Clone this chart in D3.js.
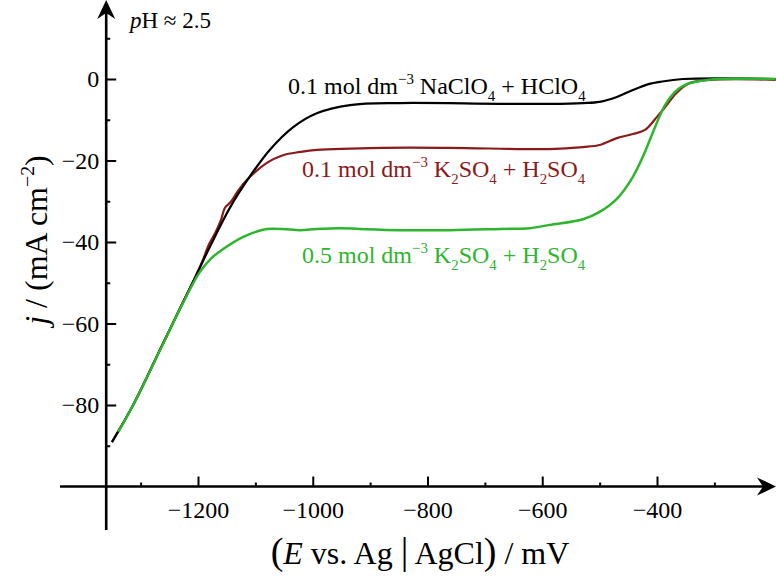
<!DOCTYPE html>
<html>
<head>
<meta charset="utf-8">
<script src="https://cdn.jsdelivr.net/npm/d3@7"></script>
<style>
  html, body { margin: 0; padding: 0; background: #fff; }
  svg { display: block; }
  text { font-family: "Liberation Serif", "DejaVu Serif", serif; }
</style>
</head>
<body>
<svg id="chart" width="776" height="584"></svg>
<script>
// ---------- data (E in mV vs Ag|AgCl, j in mA cm^-2) ----------
const blackE = [-1350,-1313,-1266,-1231,-1205,-1179,-1144,-1109,-1075,-1034,-993,-935,-848,-674,-587,-529,-500,-470,-442,-413,-395,-355,-193];
const blackJ = [-89.1,-80,-66.4,-56.2,-48.7,-41.1,-31.5,-23.8,-17.4,-11.8,-8.4,-6.4,-5.9,-6.1,-6.1,-5.9,-5.6,-4.4,-2.7,-1.2,-0.7,0,0];

const redE = [-1350,-1313,-1266,-1231,-1205,-1192,-1181,-1170,-1160,-1153,-1143,-1130,-1115,-1080,-1052,-1022,-993,-878,-761,-587,-529,-500,-470,-442,-421,-400,-383,-366,-343,-308,-193];
const redJ = [-89.1,-80,-66.4,-56.2,-48.7,-44.6,-40.6,-37.8,-34.6,-31.6,-30.2,-27.4,-24.8,-20.6,-18.7,-17.9,-17.4,-16.9,-16.9,-17.2,-16.7,-16.2,-14.5,-13.5,-12.5,-9.3,-6.4,-3.4,-1,-0.2,-0.2];

const greenE = [-1339,-1313,-1266,-1228,-1197,-1176,-1156,-1122,-1095,-1080,-1052,-1022,-993,-953,-918,-848,-761,-674,-622,-587,-529,-500,-470,-442,-421,-404,-386,-369,-352,-325,-291,-193];
const greenJ = [-86.6,-80,-66.5,-55.5,-47.4,-43.9,-41.7,-38.8,-37.3,-36.8,-36.8,-37.1,-36.8,-36.6,-36.8,-37.1,-37.1,-36.8,-36.6,-35.8,-34.4,-32.6,-29.4,-24,-17.9,-12,-6.4,-3.2,-1.5,-0.5,0,0];

const xMajorTicks = [-1200,-1000,-800,-600,-400];
const xMinorTicks = [-1300,-1100,-900,-700,-500,-300];
const yMajorTicks = [0,-20,-40,-60,-80];
const yMinorTicks = [10,-10,-30,-50,-70,-90];

const colors = { black: "#000000", red: "#8b1a1a", green: "#2db52d" };

// ---------- scales ----------
const svg = d3.select("#chart");
const x = d3.scaleLinear().domain([-1200, -400]).range([198, 657]);
const y = d3.scaleLinear().domain([0, -80]).range([79, 405]);

const yAxisAtE = -1360;   // where the vertical axis crosses
const xAxisAtJ = -100;    // where the horizontal axis crosses
const fmt = d => d3.format("d")(d).replace("-", "−");

// ---------- axes ----------
const gx = svg.append("g").attr("transform", `translate(0,${y(xAxisAtJ)})`);
gx.append("line").attr("x1", 60).attr("x2", 770).attr("y1", 0).attr("y2", 0)
  .attr("stroke", "#000").attr("stroke-width", 2.6);
gx.append("path").attr("d", "M776,0 L757,-9 L763,0 L757,9 Z").attr("fill", "#000");

const gxm = gx.append("g").call(d3.axisBottom(x).tickValues(xMajorTicks).tickSizeInner(-10).tickSizeOuter(0).tickPadding(14).tickFormat(fmt));
gxm.select(".domain").remove();
gxm.selectAll(".tick line").attr("stroke-width", 2);
gxm.selectAll(".tick text").attr("font-size", 24).attr("font-family", "Liberation Serif").attr("fill", "#000");

const gxn = gx.append("g").call(d3.axisBottom(x).tickValues(xMinorTicks).tickSizeInner(-4).tickSizeOuter(0).tickFormat(""));
gxn.select(".domain").remove();
gxn.selectAll(".tick line").attr("stroke-width", 2);

const gy = svg.append("g").attr("transform", `translate(${x(yAxisAtE)},0)`);
gy.append("line").attr("x1", 0).attr("x2", 0).attr("y1", 6).attr("y2", 530)
  .attr("stroke", "#000").attr("stroke-width", 2.6);
gy.append("path").attr("d", "M0,0 L-9,19 L0,13 L9,19 Z").attr("fill", "#000");

const gym = gy.append("g").call(d3.axisLeft(y).tickValues(yMajorTicks).tickSizeInner(-10).tickSizeOuter(0).tickPadding(7).tickFormat(fmt));
gym.select(".domain").remove();
gym.selectAll(".tick line").attr("stroke-width", 2);
gym.selectAll(".tick text").attr("font-size", 24).attr("font-family", "Liberation Serif").attr("fill", "#000");

const gyn = gy.append("g").call(d3.axisLeft(y).tickValues(yMinorTicks).tickSizeInner(-4).tickSizeOuter(0).tickFormat(""));
gyn.select(".domain").remove();
gyn.selectAll(".tick line").attr("stroke-width", 2);

// ---------- curves ----------
const line = d3.line().x(d => x(d[0])).y(d => y(d[1])).curve(d3.curveCatmullRom.alpha(0.5));
const zip = (a, b) => a.map((v, i) => [v, b[i]]);

svg.append("path").attr("d", line(zip(redE, redJ))).attr("fill", "none")
  .attr("stroke", colors.red).attr("stroke-width", 2.2).attr("stroke-linejoin", "round");
svg.append("path").attr("d", line(zip(blackE, blackJ))).attr("fill", "none")
  .attr("stroke", colors.black).attr("stroke-width", 2.2).attr("stroke-linejoin", "round");
svg.append("path").attr("d", line(zip(greenE, greenJ))).attr("fill", "none")
  .attr("stroke", colors.green).attr("stroke-width", 2.5).attr("stroke-linejoin", "round");

// ---------- rich text helper ----------
function richText(g, parts, size) {
  const t = g.append("text").attr("font-size", size);
  let shift = 0;
  parts.forEach(p => {
    let target = 0, fs = size;
    if (p.sub) { target = 0.28 * size; fs = 0.62 * size; }
    if (p.sup) { target = -0.42 * size; fs = 0.62 * size; }
    if (p.fs) fs = p.fs;
    const ts = t.append("tspan").text(p.t).attr("font-size", fs).attr("dy", target - shift);
    if (p.it) ts.attr("font-style", "italic");
    shift = target;
  });
  return t;
}

// legend labels
richText(svg.append("g").attr("transform", "translate(288,94)"), [
  {t: "0.1 mol dm"}, {t: "−3", sup: true}, {t: " NaClO"}, {t: "4", sub: true}, {t: " + HClO"}, {t: "4", sub: true}
], 24).attr("fill", colors.black);

richText(svg.append("g").attr("transform", "translate(302,177)"), [
  {t: "0.1 mol dm"}, {t: "−3", sup: true}, {t: " K"}, {t: "2", sub: true}, {t: "SO"}, {t: "4", sub: true},
  {t: " + H"}, {t: "2", sub: true}, {t: "SO"}, {t: "4", sub: true}
], 24).attr("fill", colors.red);

richText(svg.append("g").attr("transform", "translate(302,263)"), [
  {t: "0.5 mol dm"}, {t: "−3", sup: true}, {t: " K"}, {t: "2", sub: true}, {t: "SO"}, {t: "4", sub: true},
  {t: " + H"}, {t: "2", sub: true}, {t: "SO"}, {t: "4", sub: true}
], 24).attr("fill", colors.green);

// pH annotation
richText(svg.append("g").attr("transform", "translate(130,28)"), [
  {t: "p", it: true}, {t: "H ≈ 2.5"}
], 23).attr("fill", "#000");

// axis titles
richText(svg.append("g").attr("transform", "translate(420,564)"), [
  {t: "(", fs: 38}, {t: "E", it: true}, {t: " vs. Ag "}, {t: "|", fs: 38}, {t: " AgCl"}, {t: ")", fs: 38}, {t: " / mV"}
], 32).attr("text-anchor", "middle").attr("fill", "#000");

richText(svg.append("g").attr("transform", "translate(47,240) rotate(-90)"), [
  {t: "j", it: true}, {t: " / (mA cm"}, {t: "−2", sup: true}, {t: ")"}
], 32).attr("text-anchor", "middle").attr("fill", "#000");
</script>
</body>
</html>
